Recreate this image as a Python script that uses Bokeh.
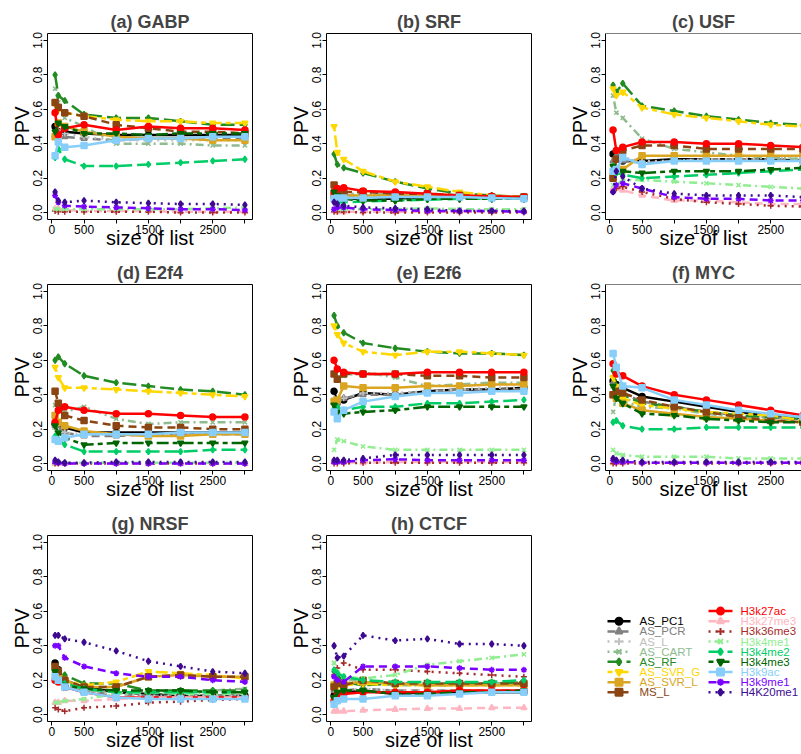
import math
from bokeh.plotting import figure
from bokeh.layouts import column, row
from bokeh.models import FixedTicker, Range1d, Span, NumeralTickFormatter
from bokeh.embed import file_html
from bokeh.resources import INLINE
from bokeh.core.properties import value

# ---------------- data ----------------
SIZES = [50, 100, 200, 500, 1000, 1500, 2000, 2500, 3000]

SERIES = ["AS_PC1", "AS_PCR", "AS_L", "AS_CART", "AS_RF", "AS_SVR_G", "AS_SVR_L", "MS_L",
          "H3k27ac", "H3k27me3", "H3k36me3", "H3k4me1", "H3k4me2", "H3k4me3", "H3k9ac",
          "H3k9me1", "H4K20me1"]

COLORS = ["#000000", "#808080", "#C0C0C0", "#8FBC8F", "#228B22", "#FFD700", "#DAA520", "#8B4513",
          "#FF0000", "#FFB6C1", "#A52A2A", "#90EE90", "#00CD66", "#006400", "#87CEFA",
          "#7A00FF", "#3D0A91"]

GABP = {
    "AS_PC1":   [0.50, 0.47, 0.47, 0.46, 0.45, 0.45, 0.45, 0.45, 0.45],
    "AS_PCR":   [0.45, 0.46, 0.44, 0.43, 0.42, 0.43, 0.43, 0.43, 0.43],
    "AS_L":     [0.46, 0.48, 0.46, 0.44, 0.42, 0.42, 0.42, 0.42, 0.42],
    "AS_CART":  [0.72, 0.64, 0.55, 0.50, 0.40, 0.40, 0.40, 0.39, 0.39],
    "AS_RF":    [0.80, 0.68, 0.65, 0.57, 0.55, 0.55, 0.53, 0.51, 0.51],
    "AS_SVR_G": [0.63, 0.60, 0.58, 0.56, 0.54, 0.53, 0.53, 0.52, 0.52],
    "AS_SVR_L": [0.44, 0.52, 0.50, 0.47, 0.44, 0.43, 0.43, 0.42, 0.42],
    "MS_L":     [0.64, 0.61, 0.58, 0.56, 0.51, 0.49, 0.47, 0.47, 0.46],
    "H3k27ac":  [0.58, 0.45, 0.49, 0.51, 0.48, 0.50, 0.49, 0.49, 0.48],
    "H3k27me3": [0.02, 0.02, 0.015, 0.01, 0.01, 0.01, 0.005, 0.005, 0.005],
    "H3k36me3": [0.01, 0.005, 0.005, 0.005, 0.005, 0.005, 0.0, 0.0, 0.0],
    "H3k4me1":  [0.02, 0.02, 0.02, 0.02, 0.02, 0.02, 0.02, 0.025, 0.03],
    "H3k4me2":  [0.32, 0.37, 0.31, 0.27, 0.27, 0.28, 0.29, 0.30, 0.31],
    "H3k4me3":  [0.47, 0.52, 0.50, 0.46, 0.46, 0.45, 0.46, 0.46, 0.46],
    "H3k9ac":   [0.33, 0.41, 0.38, 0.39, 0.42, 0.43, 0.43, 0.44, 0.44],
    "H3k9me1":  [0.10, 0.06, 0.04, 0.035, 0.03, 0.025, 0.02, 0.02, 0.015],
    "H4K20me1": [0.12, 0.07, 0.06, 0.07, 0.06, 0.055, 0.05, 0.05, 0.045],
}

SRF = {
    "AS_PC1":   [0.10, 0.09, 0.08, 0.08, 0.08, 0.09, 0.09, 0.09, 0.09],
    "AS_PCR":   [0.10, 0.10, 0.10, 0.10, 0.10, 0.10, 0.09, 0.09, 0.09],
    "AS_L":     [0.08, 0.08, 0.09, 0.09, 0.09, 0.09, 0.09, 0.09, 0.09],
    "AS_CART":  [0.12, 0.11, 0.11, 0.11, 0.11, 0.11, 0.10, 0.09, 0.09],
    "AS_RF":    [0.34, 0.28, 0.26, 0.23, 0.18, 0.14, 0.11, 0.10, 0.09],
    "AS_SVR_G": [0.50, 0.35, 0.31, 0.24, 0.18, 0.15, 0.12, 0.10, 0.09],
    "AS_SVR_L": [0.10, 0.10, 0.10, 0.10, 0.10, 0.10, 0.10, 0.09, 0.09],
    "MS_L":     [0.16, 0.13, 0.12, 0.12, 0.11, 0.11, 0.10, 0.09, 0.09],
    "H3k27ac":  [0.12, 0.14, 0.145, 0.125, 0.12, 0.11, 0.10, 0.095, 0.09],
    "H3k27me3": [0.01, 0.005, 0.005, 0.005, 0.005, 0.005, 0.005, 0.005, 0.005],
    "H3k36me3": [0.005, 0.005, 0.005, 0.0, 0.0, 0.0, 0.0, 0.0, 0.0],
    "H3k4me1":  [0.02, 0.02, 0.02, 0.02, 0.02, 0.025, 0.02, 0.02, 0.02],
    "H3k4me2":  [0.07, 0.06, 0.06, 0.065, 0.07, 0.075, 0.08, 0.08, 0.08],
    "H3k4me3":  [0.12, 0.10, 0.08, 0.07, 0.07, 0.08, 0.08, 0.08, 0.08],
    "H3k9ac":   [0.08, 0.085, 0.085, 0.085, 0.09, 0.09, 0.09, 0.085, 0.08],
    "H3k9me1":  [0.02, 0.03, 0.03, 0.02, 0.015, 0.01, 0.01, 0.01, 0.005],
    "H4K20me1": [0.06, 0.05, 0.04, 0.03, 0.025, 0.02, 0.01, 0.01, 0.01],
}

USF = {
    "AS_PC1":   [0.34, 0.32, 0.30, 0.30, 0.31, 0.31, 0.31, 0.31, 0.30],
    "AS_PCR":   [0.30, 0.33, 0.30, 0.29, 0.30, 0.31, 0.31, 0.31, 0.31],
    "AS_L":     [0.25, 0.30, 0.32, 0.30, 0.30, 0.31, 0.31, 0.32, 0.32],
    "AS_CART":  [0.68, 0.58, 0.55, 0.43, 0.37, 0.35, 0.33, 0.32, 0.31],
    "AS_RF":    [0.74, 0.70, 0.75, 0.62, 0.59, 0.56, 0.54, 0.52, 0.51],
    "AS_SVR_G": [0.72, 0.68, 0.70, 0.61, 0.57, 0.55, 0.53, 0.51, 0.50],
    "AS_SVR_L": [0.21, 0.24, 0.25, 0.33, 0.33, 0.33, 0.33, 0.33, 0.33],
    "MS_L":     [0.20, 0.31, 0.36, 0.39, 0.39, 0.37, 0.37, 0.37, 0.37],
    "H3k27ac":  [0.48, 0.36, 0.38, 0.41, 0.41, 0.40, 0.40, 0.39, 0.38],
    "H3k27me3": [0.14, 0.14, 0.13, 0.10, 0.07, 0.07, 0.06, 0.05, 0.05],
    "H3k36me3": [0.12, 0.14, 0.15, 0.12, 0.08, 0.06, 0.05, 0.04, 0.035],
    "H3k4me1":  [0.16, 0.16, 0.19, 0.19, 0.18, 0.17, 0.16, 0.15, 0.14],
    "H3k4me2":  [0.27, 0.23, 0.22, 0.20, 0.21, 0.22, 0.23, 0.24, 0.25],
    "H3k4me3":  [0.27, 0.24, 0.24, 0.23, 0.24, 0.24, 0.24, 0.25, 0.26],
    "H3k9ac":   [0.24, 0.25, 0.32, 0.28, 0.30, 0.30, 0.30, 0.30, 0.30],
    "H3k9me1":  [0.12, 0.16, 0.17, 0.14, 0.09, 0.08, 0.08, 0.07, 0.07],
    "H4K20me1": [0.12, 0.24, 0.21, 0.14, 0.11, 0.10, 0.10, 0.10, 0.09],
}

E2F4 = {
    "AS_PC1":   [0.23, 0.22, 0.21, 0.18, 0.18, 0.18, 0.18, 0.18, 0.18],
    "AS_PCR":   [0.22, 0.21, 0.18, 0.16, 0.16, 0.17, 0.17, 0.17, 0.17],
    "AS_L":     [0.20, 0.19, 0.18, 0.17, 0.17, 0.17, 0.17, 0.17, 0.17],
    "AS_CART":  [0.34, 0.33, 0.30, 0.33, 0.26, 0.23, 0.24, 0.24, 0.24],
    "AS_RF":    [0.60, 0.62, 0.58, 0.51, 0.47, 0.45, 0.43, 0.42, 0.40],
    "AS_SVR_G": [0.56, 0.50, 0.44, 0.44, 0.43, 0.42, 0.41, 0.40, 0.39],
    "AS_SVR_L": [0.28, 0.24, 0.22, 0.19, 0.17, 0.16, 0.16, 0.17, 0.17],
    "MS_L":     [0.42, 0.35, 0.28, 0.25, 0.22, 0.21, 0.21, 0.20, 0.20],
    "H3k27ac":  [0.24, 0.31, 0.33, 0.31, 0.29, 0.29, 0.28, 0.27, 0.27],
    "H3k27me3": [0.0, 0.0, 0.0, 0.0, 0.0, 0.0, 0.0, 0.0, 0.0],
    "H3k36me3": [0.0, 0.0, 0.0, 0.0, 0.0, 0.0, 0.0, 0.0, 0.0],
    "H3k4me1":  [0.005, 0.005, 0.005, 0.005, 0.005, 0.005, 0.005, 0.005, 0.005],
    "H3k4me2":  [0.16, 0.14, 0.11, 0.07, 0.07, 0.07, 0.07, 0.08, 0.08],
    "H3k4me3":  [0.22, 0.18, 0.15, 0.11, 0.12, 0.12, 0.12, 0.12, 0.12],
    "H3k9ac":   [0.14, 0.13, 0.15, 0.17, 0.17, 0.17, 0.18, 0.18, 0.18],
    "H3k9me1":  [0.01, 0.005, 0.0, 0.0, 0.0, 0.0, 0.0, 0.0, 0.0],
    "H4K20me1": [0.02, 0.01, 0.005, 0.005, 0.01, 0.01, 0.01, 0.01, 0.01],
}

E2F6 = {
    "AS_PC1":   [0.42, 0.36, 0.37, 0.41, 0.40, 0.42, 0.43, 0.43, 0.44],
    "AS_PCR":   [0.36, 0.35, 0.38, 0.40, 0.40, 0.42, 0.43, 0.43, 0.43],
    "AS_L":     [0.38, 0.36, 0.38, 0.41, 0.41, 0.42, 0.43, 0.44, 0.44],
    "AS_CART":  [0.52, 0.50, 0.51, 0.53, 0.50, 0.45, 0.46, 0.47, 0.47],
    "AS_RF":    [0.86, 0.80, 0.76, 0.70, 0.67, 0.65, 0.64, 0.64, 0.63],
    "AS_SVR_G": [0.80, 0.75, 0.70, 0.65, 0.63, 0.65, 0.65, 0.64, 0.63],
    "AS_SVR_L": [0.36, 0.37, 0.45, 0.44, 0.44, 0.45, 0.45, 0.46, 0.46],
    "MS_L":     [0.52, 0.49, 0.52, 0.52, 0.52, 0.51, 0.51, 0.50, 0.50],
    "H3k27ac":  [0.60, 0.55, 0.53, 0.52, 0.52, 0.53, 0.53, 0.53, 0.53],
    "H3k27me3": [0.01, 0.01, 0.01, 0.005, 0.01, 0.01, 0.01, 0.01, 0.01],
    "H3k36me3": [0.0, 0.0, 0.0, 0.005, 0.005, 0.005, 0.005, 0.005, 0.005],
    "H3k4me1":  [0.08, 0.14, 0.13, 0.10, 0.08, 0.08, 0.08, 0.08, 0.08],
    "H3k4me2":  [0.32, 0.33, 0.31, 0.33, 0.33, 0.35, 0.35, 0.36, 0.37],
    "H3k4me3":  [0.34, 0.30, 0.29, 0.30, 0.31, 0.33, 0.33, 0.33, 0.33],
    "H3k9ac":   [0.30, 0.26, 0.31, 0.36, 0.39, 0.41, 0.41, 0.42, 0.42],
    "H3k9me1":  [0.01, 0.01, 0.01, 0.02, 0.025, 0.02, 0.02, 0.02, 0.02],
    "H4K20me1": [0.02, 0.02, 0.02, 0.03, 0.05, 0.05, 0.05, 0.05, 0.05],
}

MYC = {
    "AS_PC1":   [0.48, 0.46, 0.44, 0.39, 0.36, 0.33, 0.30, 0.28, 0.26],
    "AS_PCR":   [0.47, 0.43, 0.41, 0.36, 0.33, 0.30, 0.28, 0.27, 0.26],
    "AS_L":     [0.44, 0.40, 0.38, 0.35, 0.32, 0.30, 0.28, 0.27, 0.26],
    "AS_CART":  [0.30, 0.40, 0.36, 0.33, 0.32, 0.29, 0.27, 0.26, 0.25],
    "AS_RF":    [0.54, 0.45, 0.40, 0.35, 0.33, 0.30, 0.28, 0.27, 0.26],
    "AS_SVR_G": [0.50, 0.45, 0.38, 0.34, 0.32, 0.30, 0.29, 0.28, 0.25],
    "AS_SVR_L": [0.40, 0.38, 0.35, 0.31, 0.29, 0.27, 0.26, 0.25, 0.24],
    "MS_L":     [0.40, 0.42, 0.41, 0.37, 0.33, 0.30, 0.27, 0.25, 0.24],
    "H3k27ac":  [0.58, 0.52, 0.51, 0.45, 0.40, 0.37, 0.34, 0.31, 0.28],
    "H3k27me3": [0.005, 0.005, 0.005, 0.005, 0.005, 0.005, 0.005, 0.005, 0.005],
    "H3k36me3": [0.0, 0.0, 0.0, 0.0, 0.0, 0.0, 0.0, 0.0, 0.0],
    "H3k4me1":  [0.08, 0.06, 0.05, 0.04, 0.04, 0.04, 0.03, 0.03, 0.03],
    "H3k4me2":  [0.24, 0.25, 0.22, 0.20, 0.20, 0.21, 0.21, 0.21, 0.21],
    "H3k4me3":  [0.45, 0.38, 0.35, 0.29, 0.28, 0.26, 0.25, 0.24, 0.24],
    "H3k9ac":   [0.64, 0.56, 0.45, 0.44, 0.37, 0.34, 0.31, 0.29, 0.27],
    "H3k9me1":  [0.02, 0.01, 0.01, 0.005, 0.005, 0.005, 0.005, 0.005, 0.005],
    "H4K20me1": [0.03, 0.02, 0.02, 0.01, 0.01, 0.01, 0.01, 0.01, 0.01],
}

NRSF = {
    "AS_PC1":   [0.30, 0.26, 0.20, 0.16, 0.13, 0.12, 0.11, 0.11, 0.11],
    "AS_PCR":   [0.25, 0.22, 0.17, 0.13, 0.12, 0.11, 0.11, 0.11, 0.11],
    "AS_L":     [0.24, 0.21, 0.17, 0.14, 0.12, 0.11, 0.11, 0.11, 0.11],
    "AS_CART":  [0.22, 0.20, 0.15, 0.14, 0.13, 0.13, 0.13, 0.14, 0.15],
    "AS_RF":    [0.24, 0.22, 0.23, 0.18, 0.18, 0.14, 0.14, 0.14, 0.14],
    "AS_SVR_G": [0.27, 0.24, 0.20, 0.17, 0.19, 0.25, 0.24, 0.23, 0.21],
    "AS_SVR_L": [0.27, 0.25, 0.20, 0.16, 0.16, 0.22, 0.23, 0.22, 0.22],
    "MS_L":     [0.28, 0.25, 0.20, 0.16, 0.16, 0.22, 0.23, 0.22, 0.22],
    "H3k27ac":  [0.20, 0.19, 0.16, 0.13, 0.10, 0.10, 0.10, 0.10, 0.10],
    "H3k27me3": [0.07, 0.07, 0.08, 0.08, 0.09, 0.10, 0.10, 0.10, 0.10],
    "H3k36me3": [0.04, 0.03, 0.02, 0.04, 0.05, 0.07, 0.075, 0.085, 0.09],
    "H3k4me1":  [0.07, 0.07, 0.08, 0.09, 0.12, 0.13, 0.12, 0.12, 0.12],
    "H3k4me2":  [0.23, 0.20, 0.18, 0.15, 0.13, 0.13, 0.13, 0.13, 0.13],
    "H3k4me3":  [0.25, 0.20, 0.17, 0.15, 0.14, 0.14, 0.14, 0.13, 0.13],
    "H3k9ac":   [0.22, 0.20, 0.16, 0.13, 0.10, 0.09, 0.09, 0.09, 0.09],
    "H3k9me1":  [0.40, 0.40, 0.33, 0.28, 0.24, 0.22, 0.22, 0.20, 0.19],
    "H4K20me1": [0.46, 0.46, 0.44, 0.42, 0.37, 0.31, 0.28, 0.25, 0.24],
}

CTCF = {
    "AS_PC1":   [0.11, 0.12, 0.13, 0.14, 0.12, 0.13, 0.13, 0.13, 0.13],
    "AS_PCR":   [0.14, 0.13, 0.14, 0.15, 0.14, 0.14, 0.14, 0.14, 0.14],
    "AS_L":     [0.15, 0.14, 0.14, 0.15, 0.14, 0.14, 0.14, 0.14, 0.14],
    "AS_CART":  [0.30, 0.24, 0.21, 0.19, 0.17, 0.17, 0.17, 0.18, 0.19],
    "AS_RF":    [0.25, 0.23, 0.19, 0.17, 0.18, 0.18, 0.18, 0.18, 0.19],
    "AS_SVR_G": [0.18, 0.16, 0.17, 0.18, 0.17, 0.17, 0.17, 0.17, 0.17],
    "AS_SVR_L": [0.17, 0.18, 0.18, 0.19, 0.18, 0.17, 0.17, 0.17, 0.17],
    "MS_L":     [0.16, 0.18, 0.17, 0.20, 0.18, 0.18, 0.18, 0.18, 0.18],
    "H3k27ac":  [0.08, 0.12, 0.12, 0.13, 0.13, 0.13, 0.14, 0.14, 0.14],
    "H3k27me3": [0.02, 0.02, 0.02, 0.025, 0.03, 0.035, 0.035, 0.04, 0.04],
    "H3k36me3": [0.23, 0.27, 0.30, 0.26, 0.26, 0.25, 0.24, 0.23, 0.22],
    "H3k4me1":  [0.30, 0.25, 0.22, 0.21, 0.23, 0.29, 0.31, 0.33, 0.35],
    "H3k4me2":  [0.26, 0.24, 0.22, 0.20, 0.19, 0.19, 0.19, 0.19, 0.20],
    "H3k4me3":  [0.10, 0.13, 0.14, 0.14, 0.12, 0.12, 0.13, 0.13, 0.14],
    "H3k9ac":   [0.06, 0.08, 0.09, 0.09, 0.11, 0.11, 0.12, 0.13, 0.13],
    "H3k9me1":  [0.22, 0.20, 0.19, 0.28, 0.28, 0.28, 0.27, 0.26, 0.26],
    "H4K20me1": [0.40, 0.33, 0.34, 0.46, 0.43, 0.44, 0.41, 0.41, 0.40],
}

PANEL_TITLES = ["(a) GABP", "(b) SRF", "(c) USF", "(d) E2f4", "(e) E2f6", "(f) MYC",
                "(g) NRSF", "(h) CTCF"]
PANEL_DATA = [GABP, SRF, USF, E2F4, E2F6, MYC, NRSF, CTCF]

X_TICKS = [0, 500, 1000, 1500, 2000, 2500, 3000]
X_HIDDEN = [1000, 2000, 3000]
Y_TICKS = [0.0, 0.2, 0.4, 0.6, 0.8, 1.0]

# ---------------- styles ----------------
SOLID, DASHED, DOTTED, DOTDASH, LONGDASH, TWODASH = "solid", "8 5", "2 5", "2 4 8 4", "14 5", "5 4 12 4"
DASHES = [SOLID, DASHED, DOTTED, DOTDASH, LONGDASH, TWODASH, SOLID, DASHED,
          SOLID, DASHED, DOTTED, DOTDASH, LONGDASH, TWODASH, SOLID, DASHED, DOTTED]
MARKERS = ["circle", "triangle", "cross", "x", "diamond", "inverted_triangle", "square", "square",
           "circle", "triangle", "cross", "x", "diamond", "inverted_triangle", "square",
           "asterisk", "diamond"]

FONT = "Liberation Sans"
COL_W, ROW_H = 279, 251
LEFT, TOP, BOTTOM = 47, 33, 25
FRAME_W = 205
X0, X1 = -68, 3118
PX_PER_UNIT = FRAME_W / (X1 - X0)
TOTAL_W = 801


def make_panel(title, data, last_col):
    if last_col:
        width = TOTAL_W - 2 * COL_W
        fw = width - LEFT
        xend = X0 + fw / PX_PER_UNIT
    else:
        width = COL_W
        fw = FRAME_W
        xend = X1
    p = figure(width=width, height=ROW_H, x_range=Range1d(X0, xend),
               y_range=Range1d(-0.04, 1.04), output_backend="svg", toolbar_location=None,
               min_border_left=LEFT, min_border_right=width - LEFT - fw,
               min_border_top=TOP, min_border_bottom=BOTTOM)
    p.title.text = title
    p.title.align = "center"
    p.title.text_font = FONT
    p.title.text_font_size = "18px"
    p.title.text_font_style = "bold"
    p.title.standoff = 3
    if last_col:
        p.title.offset = 4
    p.grid.visible = False

    for ax in (p.xaxis[0], p.yaxis[0]):
        ax.major_tick_out = 4
        ax.major_tick_in = 0
        ax.minor_tick_line_color = None
        ax.major_tick_line_color = "black"
        ax.major_label_text_font = FONT
        ax.major_label_text_font_size = "12px"
        ax.major_label_text_color = "black"
        ax.major_label_standoff = 1
        ax.axis_label_text_font = FONT
        ax.axis_label_text_font_size = "20px"
        ax.axis_label_text_font_style = "normal"
        ax.axis_label_text_color = "black"

    p.xaxis.ticker = FixedTicker(ticks=X_TICKS)
    p.xaxis.major_label_overrides = {t: "" for t in X_HIDDEN}
    p.xaxis.axis_label = "size of list"
    p.xaxis.axis_label_standoff = -10

    p.yaxis.ticker = FixedTicker(ticks=Y_TICKS)
    p.yaxis.formatter = NumeralTickFormatter(format="0.0")
    p.yaxis.major_label_orientation = "parallel"
    p.yaxis.axis_label = "PPV"
    p.yaxis.axis_label_standoff = -2

    if last_col:
        p.outline_line_color = None
        p.xaxis.axis_line_color = "black"
        p.yaxis.axis_line_color = "black"
        p.add_layout(Span(location=1.04, dimension="width", line_color="black", line_width=1))
    else:
        p.outline_line_color = "black"
        p.outline_line_width = 1
        p.outline_line_alpha = 1.0
        p.xaxis.axis_line_color = None
        p.yaxis.axis_line_color = None

    for name, color, dash, marker in zip(SERIES, COLORS, DASHES, MARKERS):
        vals = data[name]
        p.line(SIZES, vals, line_color=color, line_width=2.5, line_dash=dash)
        p.scatter(SIZES, vals, marker=marker, size=6, line_color=color, fill_color=color,
                  line_width=1.5)
    return p


def make_legend():
    width = TOTAL_W - 2 * COL_W
    p = figure(width=width, height=ROW_H, x_range=Range1d(0, width), y_range=Range1d(ROW_H, 0),
               output_backend="svg", toolbar_location=None, x_axis_type=None, y_axis_type=None,
               min_border=0)
    p.grid.visible = False
    p.outline_line_color = None
    step = 13.7
    top = 102
    n_left = 8
    for i, (name, color, dash, marker) in enumerate(zip(SERIES, COLORS, DASHES, MARKERS)):
        if i < n_left:
            yy = top + step * (i + 1)
            x0, x1, tx = 49, 72, 81
        else:
            yy = top + step * (i - n_left)
            x0, x1, tx = 150, 174, 182
        p.line([x0, x1], [yy, yy], line_color=color, line_width=2.5, line_dash=dash)
        p.scatter([(x0 + x1) / 2], [yy], marker=marker, size=7, line_color=color,
                  fill_color=color, line_width=2)
        p.text([tx], [yy], text=[name], text_color=color, text_font=value(FONT),
               text_font_size="11.5px", text_baseline="middle", text_align="left")
    return p


panels = []
for k, (t, d) in enumerate(zip(PANEL_TITLES, PANEL_DATA)):
    panels.append(make_panel(t, d, last_col=(k % 3 == 2)))
legend_fig = make_legend()

layout = column(
    row(panels[0], panels[1], panels[2]),
    row(panels[3], panels[4], panels[5]),
    row(panels[6], panels[7], legend_fig),
)

open("out.html", "w").write(file_html(layout, INLINE))
